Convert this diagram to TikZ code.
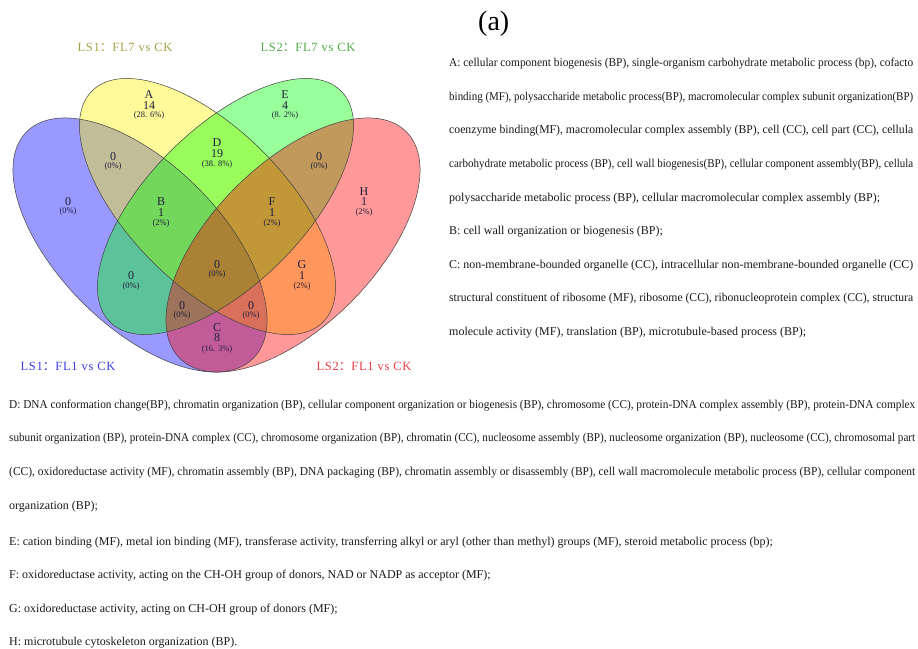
\documentclass[tikz,border=0pt]{standalone}
\usepackage{fontspec}
\usepackage{graphicx}
\setmainfont{Liberation Serif}
\newfontfamily\bodyfont{Liberation Serif}
\newfontfamily\cjkfont{Noto Sans CJK SC}
\newfontfamily\titlefont[LetterSpace=6]{Liberation Serif}
\newfontfamily\lblfont{Liberation Serif}
\newlength\jlen
\newcommand\jline[2]{\settowidth\jlen{#2}\ifdim\jlen>#1\relax\resizebox{#1}{\height}{#2}\else\makebox[#1][s]{#2}\fi}
\definecolor{tolive}{RGB}{165,160,70}
\definecolor{tgreen}{RGB}{80,170,70}
\definecolor{tblue}{RGB}{60,60,230}
\definecolor{tred}{RGB}{235,60,70}
\definecolor{lblc}{RGB}{30,30,60}
\begin{document}
\begin{tikzpicture}[x=1pt,y=1pt,
  body/.style={font=\bodyfont\fontsize{12}{13}\selectfont, anchor=base west, inner sep=0pt, text=black!90},
  ttl/.style={font=\titlefont\fontsize{12.5}{14}\selectfont, anchor=center, inner sep=0pt},
  big/.style={font=\lblfont\fontsize{12}{13}\selectfont, anchor=base, inner sep=0pt, text height=8pt, text depth=0pt, text=lblc},
  pct/.style={font=\lblfont\fontsize{8.5}{10}\selectfont, anchor=base, inner sep=0pt, text height=6pt, text depth=1.5pt, text=lblc},
  venn/.style={fill opacity=0.4},
  rim/.style={draw=black!75, line width=0.5pt}]
\useasboundingbox (0,0) rectangle (918,-648);
% ellipse centres
\coordinate (cb) at (140,-245);
\coordinate (cy) at (207.5,-206.5);
\coordinate (cg) at (225.5,-206.5);
\coordinate (cr) at (293,-245);
\fill[venn, blue, rotate around={-45:(cb)}] (cb) ellipse [x radius=160.2, y radius=81.3];
\fill[venn, yellow, rotate around={-45:(cy)}] (cy) ellipse [x radius=163.4, y radius=78];
\fill[venn, green, rotate around={45:(cg)}] (cg) ellipse [x radius=163.4, y radius=78];
\fill[venn, red, rotate around={45:(cr)}] (cr) ellipse [x radius=160.2, y radius=81.3];
\draw[rim, rotate around={-45:(cb)}] (cb) ellipse [x radius=160.2, y radius=81.3];
\draw[rim, rotate around={-45:(cy)}] (cy) ellipse [x radius=163.4, y radius=78];
\draw[rim, rotate around={45:(cg)}] (cg) ellipse [x radius=163.4, y radius=78];
\draw[rim, rotate around={45:(cr)}] (cr) ellipse [x radius=160.2, y radius=81.3];
% set titles
\node[ttl, text=tolive] (s2) at (125,-47) {LS1{\cjkfont ：}FL7 vs CK};
\node[ttl, text=tgreen] (s3) at (308,-47) {LS2{\cjkfont ：}FL7 vs CK};
\node[ttl, text=tblue] (s1) at (68,-366) {LS1{\cjkfont ：}FL1 vs CK};
\node[ttl, text=tred] (s4) at (364,-366) {LS2{\cjkfont ：}FL1 vs CK};
% region labels
\node[big] (aL) at (149,-98) {A};
\node[big] (aN) at (149,-109) {14};
\node[pct] (aP) at (149,-117.5) {(28. 6\%)};
\node[big] (eL) at (285,-98) {E};
\node[big] (eN) at (285,-109) {4};
\node[pct] (eP) at (285,-117.5) {(8. 2\%)};
\node[big] (dL) at (217,-146) {D};
\node[big] (dN) at (217,-157) {19};
\node[pct] (dP) at (217,-166) {(38. 8\%)};
\node[big] (ybN) at (113,-160) {0};
\node[pct] (ybP) at (113,-168.5) {(0\%)};
\node[big] (grN) at (319,-160) {0};
\node[pct] (grP) at (319,-168.5) {(0\%)};
\node[big] (bN) at (68,-205) {0};
\node[pct] (bP) at (68,-213.5) {(0\%)};
\node[big] (bbL) at (161,-205.5) {B};
\node[big] (bbN) at (161,-216.5) {1};
\node[pct] (bbP) at (161,-225) {(2\%)};
\node[big] (fL) at (272,-205.5) {F};
\node[big] (fN) at (272,-216.5) {1};
\node[pct] (fP) at (272,-225) {(2\%)};
\node[big] (hL) at (364,-195) {H};
\node[big] (hN) at (364,-205.5) {1};
\node[pct] (hP) at (364,-214) {(2\%)};
\node[big] (mN) at (217,-268) {0};
\node[pct] (mP) at (217,-276.5) {(0\%)};
\node[big] (bgN) at (131,-279) {0};
\node[pct] (bgP) at (131,-288) {(0\%)};
\node[big] (gL) at (302,-268) {G};
\node[big] (gN) at (302,-279) {1};
\node[pct] (gP) at (302,-288) {(2\%)};
\node[big] (lN) at (182,-309) {0};
\node[pct] (lP) at (182,-317.5) {(0\%)};
\node[big] (rN) at (251,-309) {0};
\node[pct] (rP) at (251,-317.5) {(0\%)};
\node[big] (cL) at (217,-331) {C};
\node[big] (cN) at (217,-341.5) {8};
\node[pct] (cP) at (217,-351) {(16. 3\%)};
% panel tag
\node[font=\lblfont\fontsize{28}{30}\selectfont, anchor=base west, inner sep=0pt] (tag) at (478,-30) {(a)};
% right text block
\node[body] (r1) at (449,-66) {\jline{464pt}{A: cellular component biogenesis (BP), single-organism carbohydrate metabolic process (bp), cofacto}};
\node[body] (r2) at (449,-100) {\jline{464pt}{binding (MF), polysaccharide metabolic process(BP), macromolecular complex subunit organization(BP)}};
\node[body] (r3) at (449,-133.5) {\jline{464pt}{coenzyme binding(MF), macromolecular complex assembly (BP), cell (CC), cell part (CC), cellula}};
\node[body] (r4) at (449,-167) {\jline{464pt}{carbohydrate metabolic process (BP), cell wall biogenesis(BP), cellular component assembly(BP), cellula}};
\node[body] (r5) at (449,-201) {polysaccharide metabolic process (BP), cellular macromolecular complex assembly (BP);};
\node[body] (r6) at (449,-234.5) {B: cell wall organization or biogenesis (BP);};
\node[body] (r7) at (449,-268) {\jline{464pt}{C: non-membrane-bounded organelle (CC), intracellular non-membrane-bounded organelle (CC)}};
\node[body] (r8) at (449,-301.5) {\jline{464pt}{structural constituent of ribosome (MF), ribosome (CC), ribonucleoprotein complex (CC), structura}};
\node[body] (r9) at (449,-335) {molecule activity (MF), translation (BP), microtubule-based process (BP);};
% bottom text block
\node[body] (b1) at (9,-408) {\jline{906pt}{D: DNA conformation change(BP), chromatin organization (BP), cellular component organization or biogenesis (BP), chromosome (CC), protein-DNA complex assembly (BP), protein-DNA complex}};
\node[body] (b2) at (9,-441.5) {\jline{906pt}{subunit organization (BP), protein-DNA complex (CC), chromosome organization (BP), chromatin (CC), nucleosome assembly (BP), nucleosome organization (BP), nucleosome (CC), chromosomal part}};
\node[body] (b3) at (9,-475) {\jline{906pt}{(CC), oxidoreductase activity (MF), chromatin assembly (BP), DNA packaging (BP), chromatin assembly or disassembly (BP), cell wall macromolecule metabolic process (BP), cellular component}};
\node[body] (b4) at (9,-509) {organization (BP);};
\node[body] (b5) at (9,-545) {E: cation binding (MF), metal ion binding (MF), transferase activity, transferring alkyl or aryl (other than methyl) groups (MF), steroid metabolic process (bp);};
\node[body] (b6) at (9,-578.5) {F: oxidoreductase activity, acting on the CH-OH group of donors, NAD or NADP as acceptor (MF);};
\node[body] (b7) at (9,-612) {G: oxidoreductase activity, acting on CH-OH group of donors (MF);};
\node[body] (b8) at (9,-645) {H: microtubule cytoskeleton organization (BP).};
\end{tikzpicture}
\end{document}
